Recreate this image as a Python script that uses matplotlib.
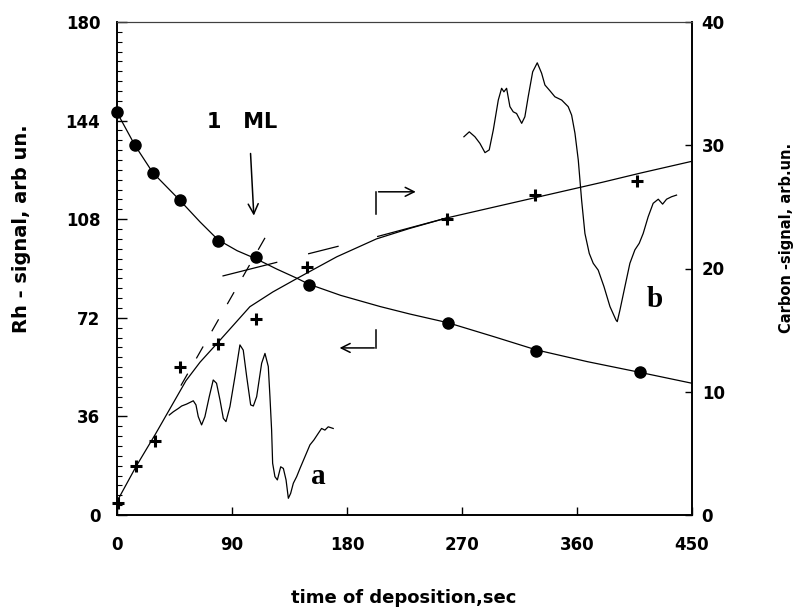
import matplotlib
matplotlib.use("Agg")
import matplotlib.pyplot as plt

plt.rcParams['font.family'] = ['DejaVu Sans']

# Rh signal (left axis), filled circles
rh_t = [0, 14, 28, 49, 79, 109, 150, 259, 328, 409]
rh_v = [147, 135, 125, 115, 100.2, 94.1, 84.1, 70.2, 60.0, 52.1]
# fitted Rh curve
rh_fit_t = [0, 14, 28, 49, 65, 79, 94, 109, 125, 141, 150, 175, 206, 229, 259, 295, 328, 368, 409, 450]
rh_fit_v = [147, 135, 125, 115, 107, 100.5, 96.5, 93.5, 89.8, 86.4, 84.3, 80.2, 76.1, 73.4, 70.2, 65.1, 60.3, 56.0, 52.1, 48.1]

# Carbon signal (right axis), crosses
c_t = [1, 15, 30, 49, 79, 109, 149, 258, 327, 407]
c_v = [1.0, 4.0, 6.0, 12.0, 13.9, 15.9, 20.1, 24.0, 26.0, 27.1]
c_fit_t = [0, 15, 30, 54, 65, 79, 104, 122, 141, 172, 203, 229, 258, 300, 340, 380, 410, 450]
c_fit_v = [1.1, 3.95, 6.55, 10.9, 12.4, 14.0, 16.9, 18.1, 19.2, 20.95, 22.4, 23.25, 24.1, 25.1, 26.05, 27.0, 27.75, 28.7]

# tangent lines (carbon axis)
steep_t = [50, 117]
steep_v = [10.5, 22.7]
flat_parts_t = [[83, 125], [150, 173], [204, 258]]
flat_parts_v = [[19.4, 20.5], [21.2, 21.8], [22.6, 24.1]]

# Auger spectrum a (drawn in left-axis units)
spec_a_t = [40.9, 44.1, 48.0, 50.6, 54.5, 58.4, 59.7, 61.8, 63.6, 66.2, 68.8, 72.2, 75.3, 77.9,
            80.6, 83.2, 85.3, 88.4, 92.3, 96.2, 98.8, 101.5, 104.6, 106.7, 109.3, 113.2, 115.8,
            118.4, 119.7, 121.0, 121.8, 123.6, 125.5, 128.1, 130.2, 132.3, 134.1, 135.9, 138.0,
            140.6, 143.2, 147.1, 151.0, 154.1, 157.5, 160.1, 162.7, 165.3, 169.2]
spec_a_v = [36.5, 37.7, 38.9, 39.8, 40.5, 41.4, 41.7, 40.2, 35.9, 32.9, 35.9, 43.2, 49.3, 48.1,
            42.0, 35.3, 34.1, 39.6, 50.5, 62.1, 60.2, 50.5, 40.2, 39.8, 43.2, 55.4, 59.0,
            54.2, 43.2, 31.0, 18.9, 14.0, 12.8, 17.6, 17.0, 12.8, 6.1, 7.9, 11.6,
            14.0, 17.0, 21.3, 25.6, 27.4, 29.8, 31.6, 31.0, 32.2, 31.6]

# Auger spectrum b
spec_b_t = [271.5, 275.7, 280.1, 284.0, 288.0, 291.3, 294.5, 298.4, 301.0, 302.8, 304.9, 307.5,
            310.1, 312.7, 316.7, 319.2, 321.8, 325.3, 328.9, 332.3, 334.9, 338.8, 342.7, 348.0,
            353.1, 355.8, 358.4, 361.0, 363.6, 366.2, 369.6, 372.7, 376.6, 381.1, 385.8, 390.5,
            391.5, 393.6, 397.5, 401.4, 405.3, 408.7, 411.8, 415.7, 419.6, 423.6, 427.0, 430.1,
            434.0, 437.9]
spec_b_v = [138.1, 139.9, 138.1, 135.7, 132.3, 133.3, 140.6, 151.5, 155.8, 154.5, 155.8, 149.1,
            147.2, 146.6, 143.0, 145.4, 152.7, 161.8, 165.1, 161.3, 157.0, 154.9, 152.7, 151.5,
            149.1, 146.0, 139.4, 129.6, 115.0, 102.8, 95.5, 91.9, 89.4, 83.4, 76.1, 71.2,
            70.6, 74.8, 83.4, 91.9, 96.8, 99.2, 102.8, 108.9, 113.8, 115.3, 113.5, 115.3,
            116.2, 116.8]

x_ticks = [0, 90, 180, 270, 360, 450]
rh_ticks = [0, 36, 72, 108, 144, 180]
c_ticks = [0, 10, 20, 30, 40]

fig = plt.figure(figsize=(7.97, 6.13), dpi=100)
ax = fig.add_axes([117 / 797, 1 - 515 / 613, 575 / 797, 493 / 613])
ax2 = ax.twinx()

# Rh
ax.plot(rh_fit_t, rh_fit_v, color='black', linewidth=0.9)
ax.plot(rh_t, rh_v, 'o', color='black', markersize=8, clip_on=False, zorder=5)

# spectra
ax.plot(spec_a_t, spec_a_v, color='black', linewidth=0.9)
ax.plot(spec_b_t, spec_b_v, color='black', linewidth=0.9)

# carbon
ax2.plot(c_fit_t, c_fit_v, color='black', linewidth=0.9)
ax2.plot(c_t, c_v, '+', color='black', markersize=9, markeredgewidth=2.2, clip_on=False, zorder=5)
ax2.plot(steep_t, steep_v, color='black', linewidth=0.9, linestyle=(0, (11, 14)))
for tt, vv in zip(flat_parts_t, flat_parts_v):
    ax2.plot(tt, vv, color='black', linewidth=0.9)

# 1 ML arrow and text
ax.annotate('', xy=(107.2, 108.3), xytext=(104.4, 133),
            arrowprops=dict(arrowstyle='->', color='black', lw=1.1, mutation_scale=18))
ax.text(98, 143.5, '1   ML', fontsize=15, fontweight='bold', ha='center', va='center')

# axis brackets
ax.plot([203, 203], [110, 118], color='black', linewidth=1.1)
ax.annotate('', xy=(236, 118), xytext=(202.5, 118),
            arrowprops=dict(arrowstyle='->', color='black', lw=1.1, mutation_scale=16))
ax.plot([203, 203], [67.5, 61], color='black', linewidth=1.1)
ax.annotate('', xy=(172, 61), xytext=(203.5, 61),
            arrowprops=dict(arrowstyle='->', color='black', lw=1.1, mutation_scale=16))

ax.text(157.5, 14, 'a', fontsize=21, fontweight='bold', family='Liberation Serif',
        ha='center', va='center')
ax.text(421, 78.5, 'b', fontsize=21, fontweight='bold', family='Liberation Serif',
        ha='center', va='center')

ax.set_xlim(0, 450)
ax.set_ylim(0, 180)
ax2.set_ylim(0, 40)
ax.set_xticks(x_ticks)
ax.set_yticks(rh_ticks)
ax.set_yticks([i * 3.6 for i in range(51)], minor=True)
ax2.set_yticks(c_ticks)

ax.tick_params(axis='x', direction='in', length=6, width=1, top=False, pad=15, labelsize=12)
ax.tick_params(axis='y', which='major', direction='in', length=7, width=1, pad=12, labelsize=12)
ax.tick_params(axis='y', which='minor', direction='in', length=3.5, width=0.8)
ax2.tick_params(axis='y', direction='in', length=5, width=1, pad=7, labelsize=12)
for lab in ax.get_xticklabels() + ax.get_yticklabels() + ax2.get_yticklabels():
    lab.set_fontweight('bold')

for a_ in (ax, ax2):
    for s in ['left', 'right', 'bottom']:
        a_.spines[s].set_linewidth(1.2)
    a_.spines['top'].set_linewidth(0.8)
    a_.spines['top'].set_color('0.25')

fig.text(22 / 797, 1 - 229 / 613, 'Rh - signal, arb un.', rotation=90, fontsize=14,
         fontweight='bold', ha='center', va='center')
fig.text(786 / 797, 1 - 238 / 613, 'Carbon -signal, arb.un.', rotation=90, fontsize=10.5,
         fontweight='bold', ha='center', va='center')
fig.text(404 / 797, 1 - 598 / 613, 'time of deposition,sec', fontsize=13,
         fontweight='bold', ha='center', va='center')

fig.savefig('out.png', dpi=100)
